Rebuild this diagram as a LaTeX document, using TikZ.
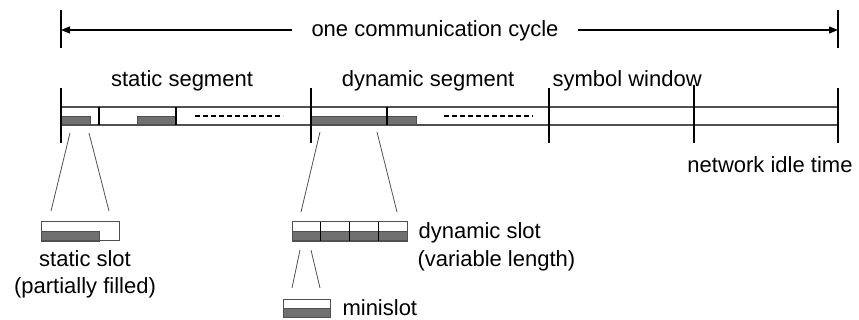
\documentclass[tikz,border=0pt]{standalone}
\usepackage{fontspec}
\setmainfont{Liberation Sans}
\usetikzlibrary{arrows.meta}

\definecolor{slotgray}{RGB}{112,112,112}
\definecolor{linegray}{RGB}{80,80,80}

\begin{document}
\begin{tikzpicture}[x=1pt, y=-1pt, line width=1.1pt,
        lbl/.style = {font=\fontsize{22}{27}\selectfont, inner sep=0pt, anchor=base},
        filled/.style = {fill=slotgray, draw=linegray, line width=0.8pt},
        bar/.style = {draw=linegray, line width=1.3pt},
        zoomline/.style = {draw=linegray, line width=0.8pt},
        gapline/.style = {line width=2pt, dash pattern=on 5pt off 3pt},
        arr/.style = {-{Triangle[length=9pt, width=7pt]}}]
    \useasboundingbox (0,0) rectangle (859,320);

    % cycle arrow
    \coordinate (cL) at (61,30);
    \coordinate (cR) at (838,30);
    \draw (61,10) -- (61,48);
    \draw (838,10) -- (838,48);
    \node[lbl, inner xsep=19pt] (cyc) at (435,37) {one communication cycle};
    \draw[arr] (cyc.west |- cL) -- (cL);
    \draw[arr] (cyc.east |- cR) -- (cR);

    % segment labels
    \node[lbl] (stat) at (182,87) {static segment};
    \node[lbl] (dyn) at (428,87) {dynamic segment};
    \node[lbl, anchor=base west] (sym) at (552,87) {symbol window};
    \node[lbl] (idle) at (770,173) {network idle time};

    % the cycle bar
    \draw[filled] (61,116) rectangle (90,125);
    \draw[filled] (137,116) rectangle (176,125);
    \draw[filled] (311,116) rectangle (416,125);
    \draw[bar] (61,107) -- (838,107);
    \draw[bar] (61,125) -- (838,125);
    \draw (99,107) -- (99,125);
    \draw (176,107) -- (176,125);
    \draw (387,107) -- (387,125);
    \draw[gapline] (195,116) -- (283,116);
    \draw[gapline] (444,116) -- (533,116);
    \foreach \x in {61,311,549,838}
        \draw (\x,88) -- (\x,143);
    \draw (694,85) -- (694,143);

    % static slot
    \coordinate (s1) at (70,133);
    \coordinate (s2) at (89,133);
    \coordinate (s3) at (51,211);
    \coordinate (s4) at (109,211);
    \draw[zoomline] (s1) -- (s3);
    \draw[zoomline] (s2) -- (s4);
    \draw[filled] (41,231) rectangle (99,241);
    \draw[bar, line width=1pt] (41,222) rectangle (119,241);
    \node[lbl] (sslot) at (85,267) {static slot};
    \node[lbl] (sfill) at (85,294) {(partially filled)};

    % dynamic slot
    \coordinate (d1) at (320,132);
    \coordinate (d2) at (377,132);
    \coordinate (d3) at (301,212);
    \coordinate (d4) at (397,212);
    \draw[zoomline] (d1) -- (d3);
    \draw[zoomline] (d2) -- (d4);
    \draw[filled] (292,231) rectangle (407,241);
    \draw[bar, line width=1pt] (292,222) rectangle (407,241);
    \foreach \x in {320,349,378}
        \draw[line width=0.9pt] (\x,222) -- (\x,241);
    \node[lbl, anchor=base west] (dslot) at (418,239) {dynamic slot};
    \node[lbl, anchor=base west] (dlen) at (417,267) {(variable length)};

    % minislot
    \coordinate (m1) at (300,250);
    \coordinate (m2) at (311,250);
    \coordinate (m3) at (292,288);
    \coordinate (m4) at (320,288);
    \draw[zoomline] (m1) -- (m3);
    \draw[zoomline] (m2) -- (m4);
    \draw[filled] (283,308) rectangle (330,317);
    \draw[bar, line width=1pt] (283,299) rectangle (330,317);
    \node[lbl, anchor=base west] (mini) at (342,315) {minislot};
\end{tikzpicture}
\end{document}
